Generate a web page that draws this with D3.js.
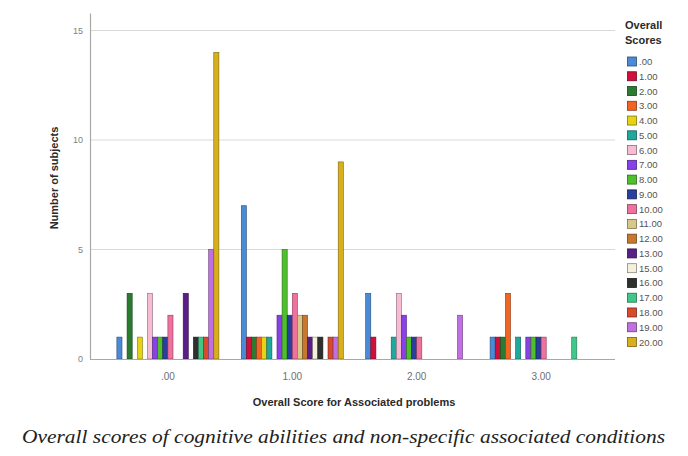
<!DOCTYPE html>
<html>
<head>
<meta charset="utf-8">
<script src="https://cdn.jsdelivr.net/npm/d3@7"></script>
<style>
  html, body { margin: 0; padding: 0; background: #fff; }
  svg { display: block; }
</style>
</head>
<body>
<svg id="chart" width="688" height="456"></svg>
<script>
// ---- data ----
const categories = [".00", "1.00", "2.00", "3.00"];
const seriesNames = [".00","1.00","2.00","3.00","4.00","5.00","6.00","7.00","8.00","9.00",
  "10.00","11.00","12.00","13.00","15.00","16.00","17.00","18.00","19.00","20.00"];
const seriesColors = ["#4a8ad6","#d0103c","#2a7a30","#f06424","#e6d414","#1fa89e","#f6bcd4","#8a40e8",
  "#4fbf2c","#2a3f9c","#f0709e","#d8c888","#c8782e","#5a1e86","#f6efdc","#2e302e","#40c888","#d84a2c","#c070e0","#d8b01c"];
const countsAt00  = [1,0,3,0,1,0,3,1,1,1,2,0,0,3,0,1,1,1,5,14];
const countsAt100 = [7,1,1,1,1,1,0,2,5,2,3,2,2,1,1,1,0,1,1,9];
const countsAt200 = [3,1,0,0,0,1,3,2,1,1,1,0,0,0,0,0,0,0,2,0];
const countsAt300 = [1,1,1,3,0,1,0,1,1,1,1,0,0,0,0,0,1,0,0,0];
const yTicks = [0, 5, 10, 15];
const groupCounts = [countsAt00, countsAt100, countsAt200, countsAt300];

// ---- chart ----
const svg = d3.select("#chart");
const plotLeft = 90, plotRight = 615, plotTop = 13, plotBottom = 359;

const x0 = d3.scaleBand().domain(categories).range([92, 617]).paddingInner(0.18).paddingOuter(0.2);
const x1 = d3.scaleBand().domain(seriesNames).range([0, x0.bandwidth()]).padding(0);
const y = d3.scaleLinear().domain([0, 15.8]).range([plotBottom, plotTop]);
const color = d3.scaleOrdinal().domain(seriesNames).range(seriesColors);

// gridlines
svg.append("g").selectAll("line").data(yTicks.filter(d => d > 0)).join("line")
  .attr("x1", plotLeft).attr("x2", plotRight)
  .attr("y1", d => y(d)).attr("y2", d => y(d))
  .attr("stroke", "#d9d9d9").attr("stroke-width", 1);

// bars
const rows = [];
categories.forEach((c, ci) => {
  seriesNames.forEach((s, si) => {
    const v = groupCounts[ci][si];
    if (v > 0) rows.push({ cat: c, series: s, value: v });
  });
});
svg.append("g").selectAll("rect").data(rows).join("rect")
  .attr("x", d => x0(d.cat) + x1(d.series))
  .attr("y", d => y(d.value))
  .attr("width", x1.bandwidth())
  .attr("height", d => y(0) - y(d.value))
  .attr("fill", d => color(d.series))
  .attr("stroke", d => d3.color(color(d.series)).darker(1.6))
  .attr("stroke-width", 0.6);

// y axis
const yAxis = d3.axisLeft(y).tickValues(yTicks).tickSize(0).tickPadding(7).tickFormat(d3.format("d"));
const yg = svg.append("g").attr("transform", `translate(${plotLeft},0)`).call(yAxis);
yg.select(".domain").attr("stroke", "#a8a8a8").attr("stroke-width", 1.2);
yg.selectAll("text").attr("fill", "#808080").style("font-family", "Liberation Sans, Arial, sans-serif").style("font-size", "9px");

// x axis
const xAxis = d3.axisBottom(x0).tickSize(0).tickPadding(14);
const xg = svg.append("g").attr("transform", `translate(0,${plotBottom})`).call(xAxis);
xg.select(".domain").remove();
xg.selectAll("text").attr("fill", "#707070").style("font-family", "Liberation Sans, Arial, sans-serif").style("font-size", "10px");
svg.append("line").attr("x1", plotLeft).attr("x2", plotRight).attr("y1", plotBottom + 0.5).attr("y2", plotBottom + 0.5)
  .attr("stroke", "#a8a8a8").attr("stroke-width", 1.2);

// axis titles
svg.append("text").attr("transform", `translate(58,${(plotTop + plotBottom) / 2 - 8}) rotate(-90)`)
  .attr("text-anchor", "middle").attr("fill", "#2a2a2a")
  .style("font-family", "Liberation Sans, Arial, sans-serif").style("font-size", "11px").style("font-weight", "bold")
  .text("Number of subjects");
svg.append("text").attr("x", 354).attr("y", 406)
  .attr("text-anchor", "middle").attr("fill", "#2a2a2a")
  .style("font-family", "Liberation Sans, Arial, sans-serif").style("font-size", "11px").style("font-weight", "bold")
  .text("Overall Score for Associated problems");

// legend
const lg = svg.append("g");
lg.append("text").attr("x", 625).attr("y", 29).attr("fill", "#2a2a2a")
  .style("font-family", "Liberation Sans, Arial, sans-serif").style("font-size", "11px").style("font-weight", "bold")
  .text("Overall");
lg.append("text").attr("x", 625).attr("y", 44).attr("fill", "#2a2a2a")
  .style("font-family", "Liberation Sans, Arial, sans-serif").style("font-size", "11px").style("font-weight", "bold")
  .text("Scores");
const ly = d3.scalePoint().domain(seriesNames).range([61.5, 342]);
const items = lg.selectAll("g.item").data(seriesNames).join("g").attr("class", "item")
  .attr("transform", d => `translate(627,${ly(d)})`);
items.append("rect").attr("x", 0.5).attr("y", -4.5).attr("width", 9).attr("height", 9)
  .attr("fill", d => color(d)).attr("stroke", d => d3.color(color(d)).darker(1.6)).attr("stroke-width", 0.8);
items.append("text").attr("x", 12).attr("y", 3.5).attr("fill", "#555")
  .style("font-family", "Liberation Sans, Arial, sans-serif").style("font-size", "9.5px")
  .text(d => d);

// caption
svg.append("text").attr("x", 22).attr("y", 443)
  .attr("textLength", 643).attr("lengthAdjust", "spacingAndGlyphs")
  .attr("fill", "#222")
  .style("font-family", "Liberation Serif, serif").style("font-style", "italic").style("font-size", "19px")
  .text("Overall scores of cognitive abilities and non-specific associated conditions");
</script>
</body>
</html>
